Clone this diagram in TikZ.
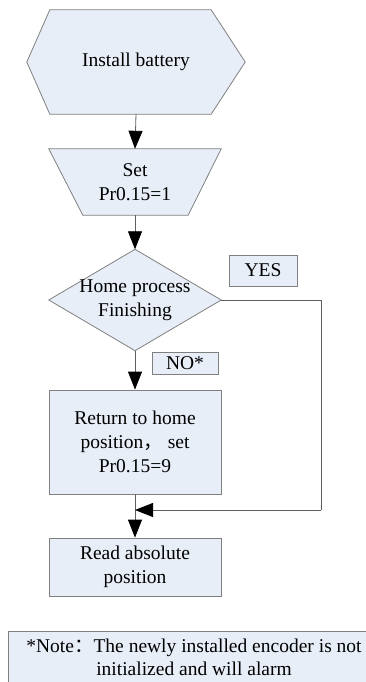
\documentclass[tikz,border=0pt]{standalone}
\usepackage{fontspec}
\setmainfont{Liberation Serif}
\newfontfamily\cjk{Noto Sans CJK SC}
\usetikzlibrary{arrows.meta,positioning,backgrounds}
\definecolor{boxfill}{HTML}{E8EEF8}
\definecolor{boxline}{HTML}{808080}
\definecolor{linkline}{HTML}{606060}
\tikzset{
  txt/.style={align=center,font=\fontsize{19.5}{24}\selectfont,inner sep=0pt},
  shp/.style={draw=boxline,fill=boxfill,line width=0.8pt},
  blk/.style={txt,shp,rectangle,minimum width=172pt},
  tag/.style={txt,shp,rectangle},
  arr/.style={-{Triangle[length=18pt,width=14pt,black]},line width=0.8pt,linkline},
  lnk/.style={line width=0.8pt,linkline}
}

\begin{document}
\begin{tikzpicture}[x=1pt,y=-1pt]
  \useasboundingbox (0,0) rectangle (366,682);

  \node[txt,minimum width=218pt,minimum height=104pt] (bat) at (136,62) {Install battery};
  \node[txt,minimum width=172pt,minimum height=66pt] (set) at (135,182) {Set\\Pr0.15=1};
  \node[txt,minimum width=172pt,minimum height=101pt] (home) at (135,300) {Home process\\Finishing};
  \node[blk,minimum height=104pt] (ret) at (135,442) {Return to home\\position{\cjk ，} set\\Pr0.15=9};
  \node[blk,minimum height=58pt] (read) at (135,567) {Read absolute\\position};
  \node[tag,minimum width=68pt,minimum height=31pt] (yes) at (263,270.5) {YES};
  \node[tag,minimum width=66pt,minimum height=22pt] (no) at (185,363) {NO*};
  \node[txt,font=\fontsize{19.5}{23}\selectfont] (note) at (194,657)
    {*Note{\cjk ：}The newly installed encoder is not\\initialized and will alarm};
  \coordinate (turn) at (321,510);

  \begin{scope}[on background layer]
    \draw[shp] (bat.west) -- ([xshift=23pt]bat.north west) -- ([xshift=-34pt]bat.north east)
      -- (bat.east) -- ([xshift=-34pt]bat.south east) -- ([xshift=23pt]bat.south west) -- cycle;
    \draw[shp] (set.north west) -- (set.north east) -- ([xshift=-33pt]set.south east)
      -- ([xshift=34pt]set.south west) -- cycle;
    \draw[shp] (home.north) -- (home.east) -- (home.south) -- (home.west) -- cycle;
    \draw[shp] (8,631) rectangle (380,720);
  \end{scope}

  \draw[arr] (bat.south) -- (set.north);
  \draw[arr] (set.south) -- (home.north);
  \draw[arr] (home.south) -- (ret.north);
  \draw[arr] (ret.south) -- (read.north);
  \draw[lnk] (home.east) -| (turn);
  \draw[arr] (turn) -- (turn -| ret.south);
\end{tikzpicture}
\end{document}
